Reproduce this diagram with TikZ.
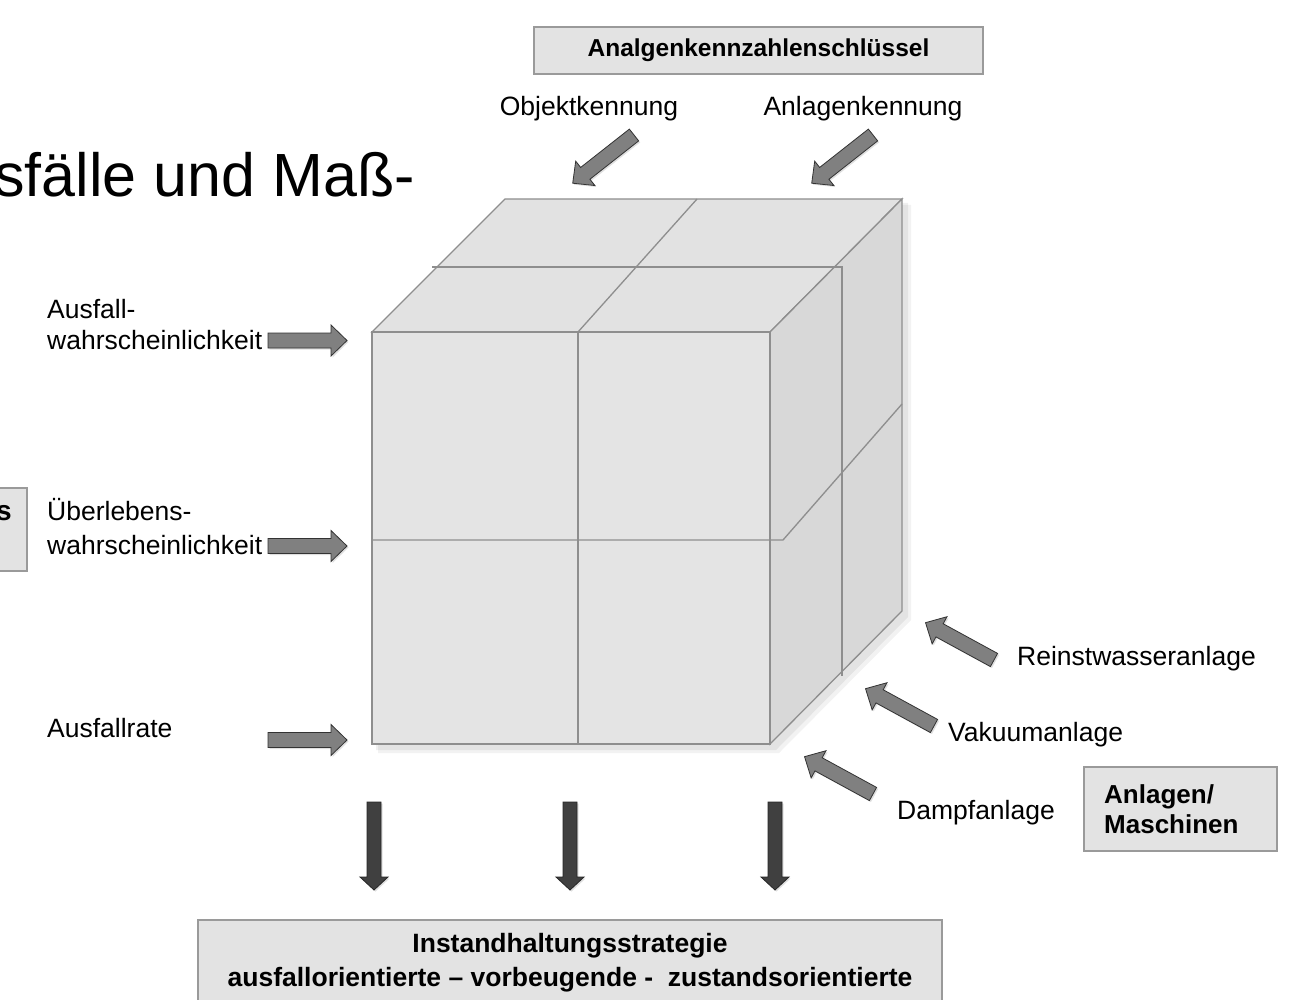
\documentclass[tikz,border=0pt]{standalone}
\usepackage{fontspec}
\setmainfont{Liberation Sans}
\usetikzlibrary{shadows}
\definecolor{boxfill}{HTML}{E3E3E3}
\definecolor{boxline}{HTML}{9A9A9A}
\definecolor{cubeedge}{HTML}{8E8E8E}
\definecolor{cubefront}{HTML}{E4E4E4}
\definecolor{cubetop}{HTML}{E2E2E2}
\definecolor{cubeside}{HTML}{D8D8D8}
\definecolor{arrowgrey}{HTML}{808080}
\definecolor{arrowdark}{HTML}{404040}
% #1 style, #2 x, #3 y (tail centre), #4 angle, #5 length, #6 body width, #7 head width, #8 head length
\newcommand\blockarrow[8]{%
  \begin{scope}[shift={(#2,#3)},rotate=#4]
    \path[#1] (0,-#6/2) -- (#5-#8,-#6/2) -- (#5-#8,-#7/2) -- (#5,0)
      -- (#5-#8,#7/2) -- (#5-#8,#6/2) -- (0,#6/2) -- cycle;
  \end{scope}}
\tikzset{
  lbl/.style={inner sep=0pt, font=\fontsize{26.5}{31}\selectfont},
  btxt/.style={inner sep=0pt, font=\fontsize{24.5}{34}\selectfont\bfseries},
  stxt/.style={inner sep=0pt, font=\fontsize{26.5}{34}\selectfont\bfseries},
  box/.style={draw=boxline, fill=boxfill, line width=1.2pt},
  greyarrow/.style={fill=arrowgrey, draw=black!80, line width=0.8pt, line join=miter,
     drop shadow={shadow xshift=1.5pt, shadow yshift=-1.5pt, opacity=0.25}},
  darkarrow/.style={fill=arrowdark, draw=black!85, line width=0.8pt, line join=miter,
     drop shadow={shadow xshift=1.5pt, shadow yshift=-1.5pt, opacity=0.25}},
  cubeline/.style={draw=cubeedge, line width=1.3pt, line join=miter},
}
\begin{document}
\begin{tikzpicture}[x=1pt,y=-1pt]
\useasboundingbox (0,0) rectangle (1316,1000);
\begin{scope}
\clip (0,0) rectangle (1316,1000);
\fill[white] (0,0) rectangle (1316,1000);

% big cut-off title
\node[anchor=base east, inner sep=0pt, font=\fontsize{61}{70}\selectfont] (title) at (415,197) {sfälle und Maß-};

% left cut-off box
\node[box, minimum width=80pt, minimum height=83pt] (leftbox) at (-13,529.5) {};
\node[anchor=base east, inner sep=0pt, font=\fontsize{28}{34}\selectfont\bfseries] (lefttxt) at (12,520) {s};

% top box
\node[box, minimum width=449pt, minimum height=47pt] (keybox) at (758.5,50.5) {};
\node[btxt] (keytxt) at (keybox.center) {Analgenkennzahlenschlüssel};

% cube shadow
\fill[black, opacity=0.06] (376,336) -- (509,203) -- (908,203) -- (908,617) -- (776,750) -- (376,750) -- cycle;
\fill[black, opacity=0.05] (378,338) -- (511,205) -- (911,205) -- (911,620) -- (779,753) -- (378,753) -- cycle;

% cube faces
\path[cubeline, fill=cubetop] (372,332) -- (505,199) -- (902,199) -- (770,332) -- cycle;
\path[cubeline, fill=cubeside] (770,332) -- (902,199) -- (902,611) -- (770,744) -- cycle;
\path[cubeline, fill=cubefront] (372,332) rectangle (770,744);
% inner lines
\draw[cubeline] (578,332) -- (578,744);
\draw[cubeline] (372,540) -- (783,540) -- (902,404);
\draw[cubeline] (578,332) -- (697,199);
\draw[cubeline] (432,267) -- (842,267) -- (842,676);

% top labels and arrows
\node[lbl, anchor=base] (objekt) at (589,116) {Objektkennung};
\node[lbl, anchor=base] (anlagenk) at (863,116) {Anlagenkennung};
\blockarrow{greyarrow}{634}{135}{218.2}{78}{15}{31}{16}
\blockarrow{greyarrow}{873}{135}{218.2}{78}{15}{31}{16}

% left labels and arrows
\node[lbl, anchor=base west] (aw1) at (47,318) {Ausfall-};
\node[lbl, anchor=base west] (aw2) at (47,349) {wahrscheinlichkeit};
\node[lbl, anchor=base west] (uw1) at (47,520) {Überlebens-};
\node[lbl, anchor=base west] (uw2) at (47,554) {wahrscheinlichkeit};
\node[lbl, anchor=base west] (rate) at (47,737) {Ausfallrate};
\blockarrow{greyarrow}{268}{340.5}{0}{79}{15}{31}{16}
\blockarrow{greyarrow}{268}{546}{0}{79}{15}{31}{16}
\blockarrow{greyarrow}{268}{740}{0}{79}{15}{31}{16}

% right labels and arrows
\node[lbl, anchor=base west] (reinst) at (1017,665) {Reinstwasseranlage};
\node[lbl, anchor=base west] (vakuum) at (948,741) {Vakuumanlage};
\node[lbl, anchor=base west] (dampf) at (897,819) {Dampfanlage};
\blockarrow{greyarrow}{994}{660}{151.4}{78}{15}{31}{16}
\blockarrow{greyarrow}{934}{726}{151.4}{78}{15}{31}{16}
\blockarrow{greyarrow}{873}{794}{151.4}{78}{15}{31}{16}

% Anlagen/Maschinen box
\node[box, minimum width=193pt, minimum height=84pt] (anlbox) at (1180.5,809) {};
\node[inner sep=0pt, font=\fontsize{26}{30}\selectfont\bfseries, anchor=base west] (anl1) at (1104,803) {Anlagen/};
\node[inner sep=0pt, font=\fontsize{26}{30}\selectfont\bfseries, anchor=base west] (anl2) at (1104,833) {Maschinen};

% down arrows
\blockarrow{darkarrow}{374}{802}{270}{88}{14}{28}{13}
\blockarrow{darkarrow}{570}{802}{270}{88}{14}{28}{13}
\blockarrow{darkarrow}{775}{802}{270}{88}{14}{28}{13}

% strategy box
\node[box, minimum width=744pt, minimum height=90pt] (stratbox) at (570,965) {};
\node[stxt, anchor=base] (strat1) at (570,952) {Instandhaltungsstrategie};
\node[stxt, anchor=base] (strat2) at (570,986) {ausfallorientierte – vorbeugende -~ zustandsorientierte};
\end{scope}
\end{tikzpicture}
\end{document}
